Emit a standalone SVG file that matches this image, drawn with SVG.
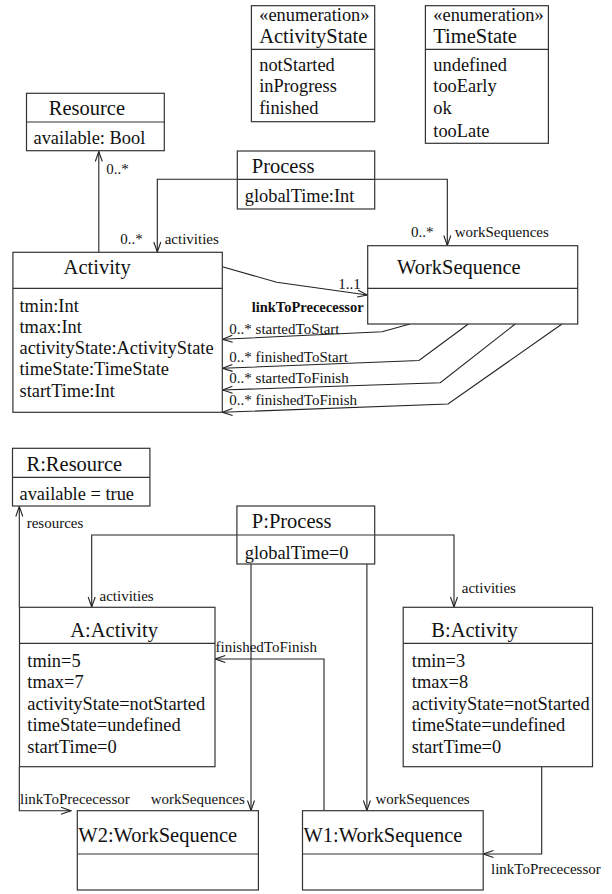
<svg xmlns="http://www.w3.org/2000/svg" width="612" height="894" viewBox="0 0 612 894">
<style>
.box{fill:#fff;stroke:#333;stroke-width:1.2}
.div{stroke:#333;stroke-width:1.2}
.c{fill:none;stroke:#222;stroke-width:1.1}
text{font-family:"Liberation Serif","Times New Roman",serif;fill:#111}
.t{font-size:20.5px}
.a{font-size:18.4px}
.l{font-size:15px}
.lb{font-size:14.5px;font-weight:bold}
</style>
<defs>
<marker id="arr" markerUnits="userSpaceOnUse" markerWidth="12" markerHeight="10" refX="11" refY="5" orient="auto">
<path d="M1,1.5 L11,5 L1,8.5" fill="none" stroke="#222" stroke-width="1.1"/>
</marker>
</defs>
<g id="connectors">
<path class="c" d="M98.8,252.3 V151.5" marker-end="url(#arr)"/>
<path class="c" d="M237.3,179.3 H157.3 V252" marker-end="url(#arr)"/>
<path class="c" d="M374.7,179.3 H447.3 V245.5" marker-end="url(#arr)"/>
<path class="c" d="M222.3,266.7 L276.7,282.3 L367.5,295" marker-end="url(#arr)"/>
<path class="c" d="M410,324 L382,331.7 L222.5,339.3" marker-end="url(#arr)"/>
<path class="c" d="M468.3,324 L419,360.5 L222.5,368.3" marker-end="url(#arr)"/>
<path class="c" d="M515.2,324 L440.3,382.7 L222.5,390" marker-end="url(#arr)"/>
<path class="c" d="M562,324 L448,404 L222.5,412.3" marker-end="url(#arr)"/>
<text class="l" x="106.2" y="174">0..*</text>
<text class="l" x="120.2" y="244">0..*</text>
<text class="l" x="164.7" y="244">activities</text>
<text class="l" x="411" y="237">0..*</text>
<text class="l" x="454.7" y="237">workSequences</text>
<text class="l" x="338.3" y="289">1..1</text>
<text class="lb" x="251.7" y="312">linkToPrececessor</text>
<text class="l" x="229.3" y="334">0..* startedToStart</text>
<text class="l" x="229.3" y="361.5">0..* finishedToStart</text>
<text class="l" x="229.3" y="383">0..* startedToFinish</text>
<text class="l" x="229.3" y="405">0..* finishedToFinish</text>
<path class="c" d="M19.3,607.3 V506.5" marker-end="url(#arr)"/>
<path class="c" d="M236.9,535 H91.7 V607" marker-end="url(#arr)"/>
<path class="c" d="M374.7,535 H454 V607" marker-end="url(#arr)"/>
<path class="c" d="M251,564 V810.5" marker-end="url(#arr)"/>
<path class="c" d="M366.9,564 V810.5" marker-end="url(#arr)"/>
<path class="c" d="M19.3,766.7 V810.7 H71" marker-end="url(#arr)"/>
<path class="c" d="M541.7,766.7 V854 H483.5" marker-end="url(#arr)"/>
<path class="c" d="M324,810.7 V659 H215.3" marker-end="url(#arr)"/>
<text class="l" x="26.7" y="528">resources</text>
<text class="l" x="99.5" y="601">activities</text>
<text class="l" x="461.8" y="593">activities</text>
<text class="l" x="215.5" y="652">finishedToFinish</text>
<text class="l" x="20" y="804">linkToPrececessor</text>
<text class="l" x="150.7" y="804">workSequences</text>
<text class="l" x="375.5" y="804">workSequences</text>
<text class="l" x="491" y="874">linkToPrececessor</text>
</g>
<g id="ActivityState">
<rect class="box" x="251.4" y="5.7" width="123.3" height="116"/>
<line class="div" x1="251.4" y1="49.3" x2="374.7" y2="49.3"/>
<text class="a" x="259.2" y="20.5">«enumeration»</text>
<text class="t" x="259.2" y="43.3">ActivityState</text>
<text class="a" x="259.2" y="70.7">notStarted</text>
<text class="a" x="259.2" y="92.3">inProgress</text>
<text class="a" x="259.2" y="114">finished</text>
</g>
<g id="TimeState">
<rect class="box" x="425.4" y="5.7" width="123" height="137.6"/>
<line class="div" x1="425.4" y1="49.3" x2="548.4" y2="49.3"/>
<text class="a" x="433.3" y="20.5">«enumeration»</text>
<text class="t" x="433.3" y="43.3">TimeState</text>
<text class="a" x="433.3" y="70.7">undefined</text>
<text class="a" x="433.3" y="92.3">tooEarly</text>
<text class="a" x="433.3" y="114">ok</text>
<text class="a" x="433.3" y="136.7">tooLate</text>
</g>
<g id="Resource">
<rect class="box" x="26.5" y="93.3" width="137.8" height="57.4"/>
<line class="div" x1="26.5" y1="122" x2="164.3" y2="122"/>
<text class="t" x="48.8" y="115">Resource</text>
<text class="a" x="33.5" y="144">available: Bool</text>
</g>
<g id="Process">
<rect class="box" x="237.3" y="151" width="137.4" height="58"/>
<line class="div" x1="237.3" y1="179.3" x2="374.7" y2="179.3"/>
<text class="t" x="251.8" y="172.7">Process</text>
<text class="a" x="244.7" y="201.7">globalTime:Int</text>
</g>
<g id="Activity">
<rect class="box" x="12.9" y="252.3" width="209.4" height="160"/>
<line class="div" x1="12.9" y1="288.3" x2="222.3" y2="288.3"/>
<text class="t" x="63.6" y="274">Activity</text>
<text class="a" x="19.5" y="311.5">tmin:Int</text>
<text class="a" x="19.5" y="332.7">tmax:Int</text>
<text class="a" x="19.5" y="354">activityState:ActivityState</text>
<text class="a" x="19.5" y="375.2">timeState:TimeState</text>
<text class="a" x="19.5" y="396.5">startTime:Int</text>
</g>
<g id="WorkSequence">
<rect class="box" x="367.7" y="245.7" width="210" height="78.3"/>
<line class="div" x1="367.7" y1="288.3" x2="577.7" y2="288.3"/>
<text class="t" x="397" y="273.5">WorkSequence</text>
</g>
<g id="R_Resource">
<rect class="box" x="12.5" y="448.3" width="137.4" height="57.7"/>
<line class="div" x1="12.5" y1="477.3" x2="149.9" y2="477.3"/>
<text class="t" x="26.5" y="471">R:Resource</text>
<text class="a" x="19.5" y="500">available = true</text>
</g>
<g id="P_Process">
<rect class="box" x="236.9" y="506" width="137.8" height="58"/>
<line class="div" x1="236.9" y1="535" x2="374.7" y2="535"/>
<text class="t" x="251.8" y="528">P:Process</text>
<text class="a" x="244.7" y="559">globalTime=0</text>
</g>
<g id="A_Activity">
<rect class="box" x="19.5" y="607.3" width="195.5" height="159.4"/>
<line class="div" x1="19.5" y1="643.3" x2="215" y2="643.3"/>
<text class="t" x="70.3" y="637">A:Activity</text>
<text class="a" x="27.3" y="666.5">tmin=5</text>
<text class="a" x="27.3" y="688">tmax=7</text>
<text class="a" x="27.3" y="709.7">activityState=notStarted</text>
<text class="a" x="27.3" y="731">timeState=undefined</text>
<text class="a" x="27.3" y="752.5">startTime=0</text>
</g>
<g id="B_Activity">
<rect class="box" x="403.2" y="607.3" width="189.3" height="159.4"/>
<line class="div" x1="403.2" y1="643.3" x2="592.5" y2="643.3"/>
<text class="t" x="431.3" y="637">B:Activity</text>
<text class="a" x="411.8" y="666.5">tmin=3</text>
<text class="a" x="411.8" y="688">tmax=8</text>
<text class="a" x="411.8" y="709.7">activityState=notStarted</text>
<text class="a" x="411.8" y="731">timeState=undefined</text>
<text class="a" x="411.8" y="752.5">startTime=0</text>
</g>
<g id="W2_WorkSequence">
<rect class="box" x="77.3" y="810.7" width="181.1" height="79.3"/>
<line class="div" x1="77.3" y1="854" x2="258.4" y2="854"/>
<text class="t" x="78.3" y="842">W2:WorkSequence</text>
</g>
<g id="W1_WorkSequence">
<rect class="box" x="302.5" y="810.7" width="180.7" height="79.3"/>
<line class="div" x1="302.5" y1="854" x2="483.2" y2="854"/>
<text class="t" x="303.5" y="842">W1:WorkSequence</text>
</g>
</svg>
